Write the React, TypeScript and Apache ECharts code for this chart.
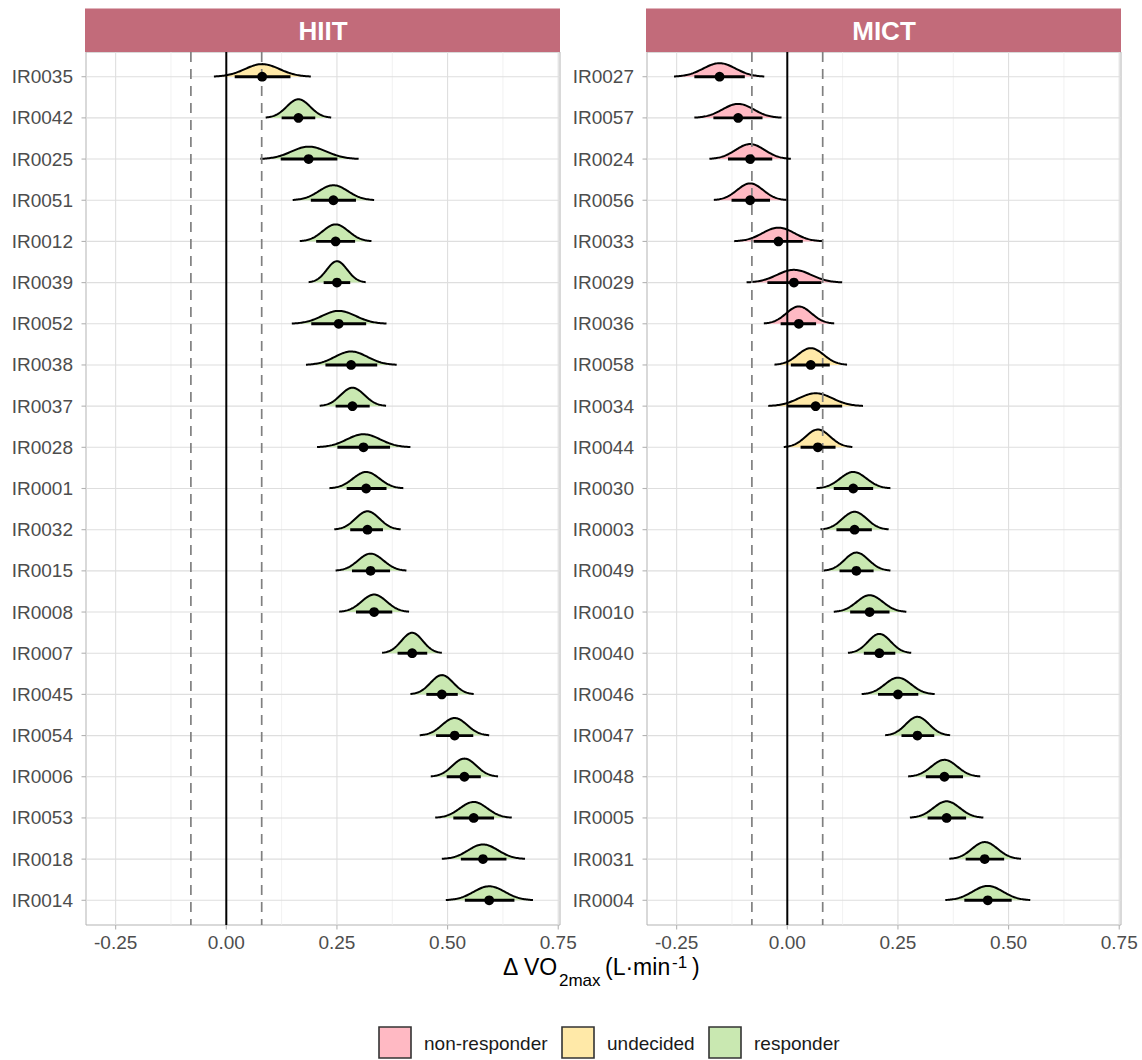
import React, { useEffect, useRef } from "react";
import * as echarts from "echarts";

// ---------- data ----------
const hiitNames = ["IR0035","IR0042","IR0025","IR0051","IR0012","IR0039","IR0052","IR0038","IR0037","IR0028","IR0001","IR0032","IR0015","IR0008","IR0007","IR0045","IR0054","IR0006","IR0053","IR0018","IR0014"];
const hiitMedian = [0.081,0.163,0.186,0.242,0.247,0.250,0.254,0.282,0.285,0.310,0.316,0.319,0.326,0.334,0.420,0.487,0.516,0.538,0.559,0.580,0.594];
const hiitIntLo = [0.019,0.125,0.123,0.191,0.203,0.220,0.192,0.224,0.247,0.251,0.272,0.280,0.284,0.293,0.387,0.452,0.474,0.498,0.513,0.530,0.539];
const hiitIntHi = [0.145,0.201,0.251,0.293,0.291,0.280,0.316,0.341,0.324,0.370,0.362,0.354,0.370,0.375,0.454,0.523,0.558,0.575,0.605,0.633,0.651];
const hiitDensLo = [-0.028,0.089,0.077,0.150,0.166,0.186,0.148,0.180,0.211,0.205,0.233,0.244,0.247,0.255,0.352,0.416,0.437,0.462,0.472,0.487,0.496];
const hiitDensHi = [0.191,0.237,0.299,0.334,0.328,0.315,0.362,0.385,0.361,0.416,0.400,0.394,0.407,0.413,0.487,0.559,0.594,0.614,0.645,0.675,0.693];
const hiitStatus = ["undecided","responder","responder","responder","responder","responder","responder","responder","responder","responder","responder","responder","responder","responder","responder","responder","responder","responder","responder","responder","responder"];

const mictNames = ["IR0027","IR0057","IR0024","IR0056","IR0033","IR0029","IR0036","IR0058","IR0034","IR0044","IR0030","IR0003","IR0049","IR0010","IR0040","IR0046","IR0047","IR0048","IR0005","IR0031","IR0004"];
const mictMedian = [-0.153,-0.111,-0.084,-0.084,-0.020,0.015,0.026,0.053,0.064,0.069,0.149,0.152,0.156,0.186,0.208,0.250,0.294,0.355,0.360,0.446,0.453];
const mictIntLo = [-0.210,-0.167,-0.134,-0.126,-0.076,-0.045,-0.015,0.008,0.001,0.030,0.105,0.111,0.118,0.142,0.173,0.205,0.258,0.313,0.317,0.403,0.400];
const mictIntHi = [-0.096,-0.056,-0.034,-0.039,0.035,0.077,0.065,0.096,0.124,0.109,0.194,0.191,0.195,0.231,0.244,0.296,0.332,0.397,0.404,0.490,0.507];
const mictDensLo = [-0.256,-0.210,-0.176,-0.166,-0.120,-0.092,-0.053,-0.029,-0.043,-0.008,0.066,0.075,0.082,0.105,0.137,0.168,0.221,0.273,0.277,0.366,0.357];
const mictDensHi = [-0.052,-0.013,0.008,-0.002,0.080,0.124,0.106,0.135,0.171,0.147,0.233,0.229,0.233,0.269,0.280,0.333,0.368,0.436,0.443,0.528,0.549];
const mictStatus = ["non-responder","non-responder","non-responder","non-responder","non-responder","non-responder","non-responder","undecided","undecided","undecided","responder","responder","responder","responder","responder","responder","responder","responder","responder","responder","responder"];

const panelTitles = ["HIIT", "MICT"];
const statusLevels = ["non-responder", "undecided", "responder"];
const xMajorTicks = [-0.25, 0, 0.25, 0.5, 0.75];
const xMinorTicks = [-0.125, 0.125, 0.375, 0.625];
const refLines = [-0.08, 0, 0.08];

// ---------- styling ----------
const FONT = '"Liberation Sans", Arial, Helvetica, sans-serif';
const statusColors: Record<string, string> = {
  "non-responder": "#FFB9C3",
  undecided: "#FFE9A8",
  responder: "#C9E8B1",
};
const X_MIN = -0.317;
const X_MAX = 0.754;
const Y_MIN = 0.4;
const Y_MAX = 21.6;
const GRID_TOP = 52;
const GRID_H = 873;
const GRID_W = 474;
const GRID_LEFTS = [86, 647];

function panelSeries(
  p: number,
  names: string[],
  med: number[],
  iLo: number[],
  iHi: number[],
  dLo: number[],
  dHi: number[],
  status: string[]
) {
  const axes = { xAxisIndex: p, yAxisIndex: p };
  const rowData = names.map((_, i) => [i + 1, med[i], iLo[i], iHi[i], dLo[i], dHi[i]]);

  const vgrid = {
    type: "custom",
    ...axes,
    z: 1,
    silent: true,
    clip: false,
    data: [...xMajorTicks.map((v) => [v, 1]), ...xMinorTicks.map((v) => [v, 0])],
    encode: { x: 0 },
    renderItem: (params: any, api: any) => {
      const v = api.value(0);
      const major = api.value(1) === 1;
      const top = api.coord([v, Y_MIN]);
      const bot = api.coord([v, Y_MAX]);
      const children: any[] = [
        {
          type: "line",
          shape: { x1: top[0], y1: top[1], x2: bot[0], y2: bot[1] },
          style: { stroke: major ? "#DEDEDE" : "#EEEEEE", lineWidth: major ? 1.1 : 0.8 },
        },
      ];
      if (major) {
        children.push({
          type: "line",
          shape: { x1: bot[0], y1: bot[1], x2: bot[0], y2: bot[1] + 4.5 },
          style: { stroke: "#B3B3B3", lineWidth: 1.1 },
        });
        children.push({
          type: "text",
          x: bot[0],
          y: bot[1] + 17.5,
          style: {
            text: v.toFixed(2),
            fill: "#4D4D4D",
            fontSize: 19,
            fontFamily: FONT,
            align: "center",
            verticalAlign: "middle",
          },
        });
      }
      return { type: "group", children };
    },
  };

  const hgrid = {
    type: "custom",
    ...axes,
    z: 1,
    silent: true,
    clip: false,
    data: rowData,
    encode: { x: 1, y: 0 },
    renderItem: (params: any, api: any) => {
      const r = api.value(0);
      const l = api.coord([X_MIN, r]);
      const rr = api.coord([X_MAX, r]);
      return {
        type: "group",
        children: [
          {
            type: "line",
            shape: { x1: l[0], y1: l[1], x2: rr[0], y2: rr[1] },
            style: { stroke: "#DEDEDE", lineWidth: 1.1 },
          },
          {
            type: "line",
            shape: { x1: l[0] - 4.5, y1: l[1], x2: l[0], y2: l[1] },
            style: { stroke: "#B3B3B3", lineWidth: 1.1 },
          },
          {
            type: "text",
            x: l[0] - 13,
            y: l[1],
            style: {
              text: names[params.dataIndex],
              fill: "#4D4D4D",
              fontSize: 19,
              fontFamily: FONT,
              align: "right",
              verticalAlign: "middle",
            },
          },
        ],
      };
    },
  };

  const density = {
    type: "custom",
    ...axes,
    z: 2,
    silent: true,
    clip: false,
    data: rowData,
    encode: { x: 1, y: 0 },
    renderItem: (params: any, api: any) => {
      const r = api.value(0);
      const m = api.value(1);
      const lo = api.value(4);
      const hi = api.value(5);
      const hw = (hi - lo) / 2;
      const H = Math.min(0.95, 0.0335 / hw);
      const N = 80;
      const pts: number[][] = [];
      for (let k = 0; k <= N; k++) {
        const x = lo + ((hi - lo) * k) / N;
        const sd = x < m ? (m - lo) / 2.8 : (hi - m) / 2.8;
        const z = (x - m) / sd;
        const h = H * Math.exp(-0.5 * z * z);
        pts.push(api.coord([x, r - h]));
      }
      const poly = pts.concat([api.coord([hi, r]), api.coord([lo, r])]);
      const fill = statusColors[status[params.dataIndex]];
      return {
        type: "group",
        children: [
          { type: "polygon", shape: { points: poly }, style: { fill, stroke: null } },
          {
            type: "polyline",
            shape: { points: pts },
            style: { stroke: "#000000", lineWidth: 2, fill: null },
          },
        ],
      };
    },
  };

  const refs = {
    type: "custom",
    ...axes,
    z: 3,
    silent: true,
    clip: false,
    data: refLines.map((v) => [v]),
    encode: { x: 0 },
    renderItem: (params: any, api: any) => {
      const v = api.value(0);
      const top = api.coord([v, Y_MIN]);
      const bot = api.coord([v, Y_MAX]);
      const solid = v === 0;
      return {
        type: "line",
        shape: { x1: top[0], y1: top[1], x2: bot[0], y2: bot[1] },
        style: solid
          ? { stroke: "#000000", lineWidth: 2 }
          : { stroke: "#808080", lineWidth: 1.7, lineDash: [10, 7] },
      };
    },
  };

  const intervals = {
    type: "custom",
    ...axes,
    z: 4,
    silent: true,
    clip: false,
    data: rowData,
    encode: { x: 1, y: 0 },
    renderItem: (params: any, api: any) => {
      const r = api.value(0);
      const p0 = api.coord([api.value(2), r]);
      const p1 = api.coord([api.value(3), r]);
      const c = api.coord([api.value(1), r]);
      return {
        type: "group",
        children: [
          {
            type: "line",
            shape: { x1: p0[0], y1: p0[1], x2: p1[0], y2: p1[1] },
            style: { stroke: "#000000", lineWidth: 2.9 },
          },
          { type: "circle", shape: { cx: c[0], cy: c[1], r: 4.9 }, style: { fill: "#000000" } },
        ],
      };
    },
  };

  return [vgrid, hgrid, density, refs, intervals];
}

export default function App() {
  const ref = useRef<HTMLDivElement>(null);
  useEffect(() => {
    if (!ref.current) return;
    const chart = echarts.init(ref.current, null, { renderer: "svg" });

    const grids = GRID_LEFTS.map((left) => ({
      left,
      top: GRID_TOP,
      width: GRID_W,
      height: GRID_H,
      show: true,
      borderColor: "#B3B3B3",
      borderWidth: 1,
      backgroundColor: "transparent",
      containLabel: false,
    }));
    const xAxes = GRID_LEFTS.map((_, i) => ({
      type: "value",
      gridIndex: i,
      min: X_MIN,
      max: X_MAX,
      show: false,
      splitLine: { show: false },
    }));
    const yAxes = GRID_LEFTS.map((_, i) => ({
      type: "value",
      gridIndex: i,
      min: Y_MIN,
      max: Y_MAX,
      inverse: true,
      show: false,
      splitLine: { show: false },
    }));

    const series = [
      ...panelSeries(0, hiitNames, hiitMedian, hiitIntLo, hiitIntHi, hiitDensLo, hiitDensHi, hiitStatus),
      ...panelSeries(1, mictNames, mictMedian, mictIntLo, mictIntHi, mictDensLo, mictDensHi, mictStatus),
    ];

    const graphic: any[] = [];
    // facet strips
    GRID_LEFTS.forEach((left, i) => {
      graphic.push({
        type: "rect",
        shape: { x: left - 1, y: 8.5, width: GRID_W + 1, height: GRID_TOP - 8.5 },
        style: { fill: "#C26B7A" },
        silent: true,
      });
      graphic.push({
        type: "text",
        x: left + GRID_W / 2,
        y: 30.5,
        style: {
          text: panelTitles[i],
          fill: "#FFFFFF",
          fontSize: 26,
          fontWeight: "bold",
          fontFamily: FONT,
          align: "center",
          verticalAlign: "middle",
        },
        silent: true,
      });
    });

    // x axis title: Δ VO2max (L·min-1)
    const titleParts = [
      { text: "Δ", x: 503, y: 966.5, fs: 23 },
      { text: "VO", x: 524, y: 966.5, fs: 23 },
      { text: "2max", x: 559, y: 980, fs: 17 },
      { text: "(L·min", x: 605, y: 966.5, fs: 23 },
      { text: "-1", x: 672, y: 962, fs: 17 },
      { text: ")", x: 692, y: 966.5, fs: 23 },
    ];
    titleParts.forEach((t) =>
      graphic.push({
        type: "text",
        x: t.x,
        y: t.y,
        style: {
          text: t.text,
          fill: "#000000",
          fontSize: t.fs,
          fontFamily: FONT,
          align: "left",
          verticalAlign: "middle",
        },
        silent: true,
      })
    );

    // legend
    const legendBoxX = [379, 562, 709];
    statusLevels.forEach((s, i) => {
      graphic.push({
        type: "rect",
        shape: { x: legendBoxX[i], y: 1027, width: 32, height: 31 },
        style: { fill: statusColors[s], stroke: "#333333", lineWidth: 1.6 },
        silent: true,
      });
      graphic.push({
        type: "text",
        x: legendBoxX[i] + 45,
        y: 1043,
        style: {
          text: s,
          fill: "#1A1A1A",
          fontSize: 19,
          fontFamily: FONT,
          align: "left",
          verticalAlign: "middle",
        },
        silent: true,
      });
    });

    chart.setOption({
      animation: false,
      backgroundColor: "#FFFFFF",
      grid: grids,
      xAxis: xAxes,
      yAxis: yAxes,
      series,
      graphic,
    });
    return () => chart.dispose();
  }, []);

  return (
    <div
      ref={ref}
      style={{ position: "absolute", left: 0, top: 0, width: 1142, height: 1060 }}
    />
  );
}
